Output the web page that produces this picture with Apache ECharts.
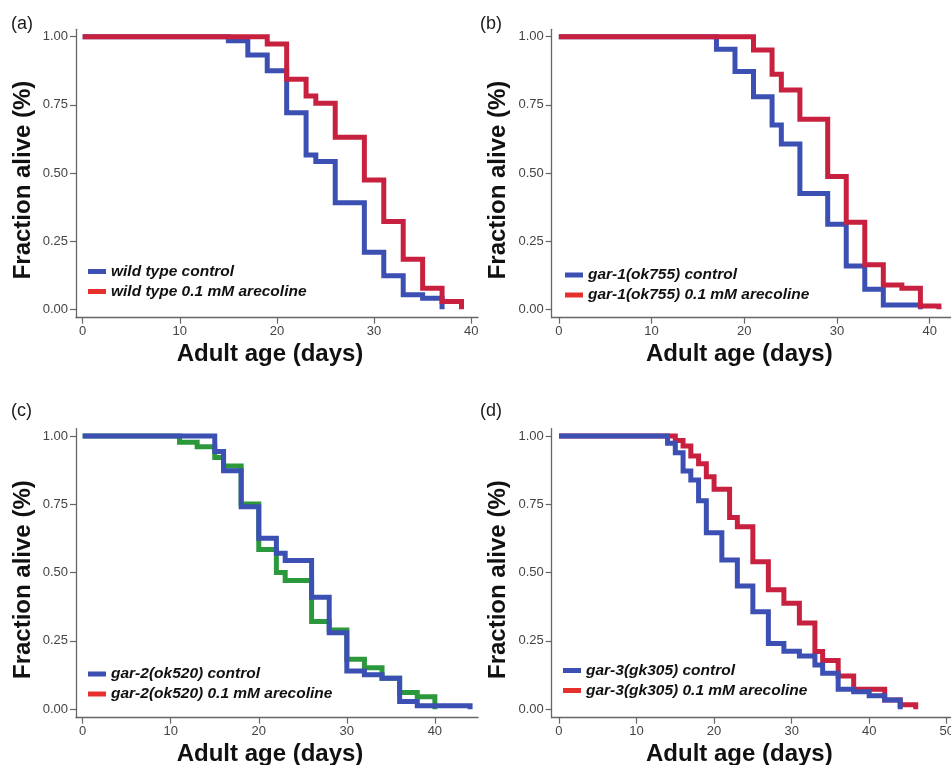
<!DOCTYPE html>
<html>
<head>
<meta charset="utf-8">
<script src="https://cdn.jsdelivr.net/npm/echarts@6/dist/echarts.min.js"></script>
<style>
html, body { margin: 0; padding: 0; background: #fff; }
#main { width: 951px; height: 765px; }
</style>
</head>
<body>
<div id="main"></div>
<script>
// survival curves (day, fraction alive)
var aDaysCtrl = [0, 15, 17, 19, 21, 23, 24, 26, 29, 31, 33, 35, 37];
var aCtrl     = [1, 0.985, 0.933, 0.875, 0.721, 0.566, 0.542, 0.391, 0.209, 0.123, 0.053, 0.040, 0];
var aDaysAre  = [0, 19, 21, 23, 24, 26, 29, 31, 33, 35, 37, 39];
var aAre      = [1, 0.973, 0.844, 0.782, 0.756, 0.631, 0.474, 0.322, 0.183, 0.077, 0.028, 0];

var bDaysCtrl = [0, 17, 19, 21, 23, 24, 26, 29, 31, 33, 35, 39];
var bCtrl     = [1, 0.954, 0.872, 0.78, 0.676, 0.606, 0.425, 0.312, 0.159, 0.073, 0.016, 0];
var bDaysAre  = [0, 21, 23, 24, 26, 29, 31, 33, 35, 37, 39, 41];
var bAre      = [1, 0.951, 0.862, 0.804, 0.697, 0.487, 0.319, 0.163, 0.089, 0.077, 0.012, 0];

var cDaysCtrl = [0, 15, 16, 18, 20, 22, 23, 26, 28, 30, 32, 34, 36, 38, 44];
var cCtrl     = [1, 0.943, 0.873, 0.741, 0.626, 0.571, 0.544, 0.41, 0.28, 0.14, 0.126, 0.113, 0.028, 0.013, 0];
var cDaysAre  = [0, 11, 13, 15, 16, 18, 20, 22, 23, 26, 28, 30, 32, 34, 36, 38, 40];
var cAre      = [1, 0.977, 0.961, 0.921, 0.89, 0.751, 0.585, 0.5, 0.471, 0.321, 0.29, 0.183, 0.152, 0.113, 0.061, 0.046, 0];

var dDaysCtrl = [0, 14, 15, 16, 17, 18, 19, 21, 23, 25, 27, 29, 31, 33, 34, 36, 38, 40, 42, 44];
var dCtrl     = [1, 0.973, 0.939, 0.872, 0.839, 0.763, 0.646, 0.546, 0.451, 0.357, 0.241, 0.212, 0.195, 0.162, 0.132, 0.073, 0.064, 0.049, 0.034, 0];
var dDaysAre  = [0, 15, 16, 17, 18, 19, 20, 22, 23, 25, 27, 29, 31, 33, 34, 36, 38, 42, 44, 46];
var dAre      = [1, 0.983, 0.963, 0.927, 0.898, 0.851, 0.805, 0.702, 0.668, 0.54, 0.437, 0.388, 0.316, 0.211, 0.178, 0.122, 0.073, 0.034, 0.016, 0];

var yTicks = [0, 0.25, 0.5, 0.75, 1];
var xTicksAB = [0, 10, 20, 30, 40];
var xTicksD = [0, 10, 20, 30, 40, 50];

var panelLabels = ['(a)', '(b)', '(c)', '(d)'];
var ctrlNames = ['wild type control', 'gar-1(ok755) control', 'gar-2(ok520) control', 'gar-3(gk305) control'];
var areNames = ['wild type 0.1 mM arecoline', 'gar-1(ok755) 0.1 mM arecoline', 'gar-2(ok520) 0.1 mM arecoline', 'gar-3(gk305) 0.1 mM arecoline'];

var BLUE = '#3c4fb2', RED = '#c8203f', GREEN = '#2b983c', LEGRED = '#e5302e';
var FONT = '"Liberation Sans", Arial, sans-serif';

function pairs(days, vals) {
	return days.map(function (d, i) { return [d, vals[i]]; });
}

// panel layout: grid box and x range
var panels = [
	{ left: 76,    top: 29.3,  width: 402,   height: 288.4, xmin: -0.69, xmax: 40.7,  ticks: xTicksAB, shift: 14, lab: [11, 15],  leg: [88, 263.5] },
	{ left: 551.7, top: 29.3,  width: 399.3, height: 288.4, xmin: -0.77, xmax: 42.3,  ticks: xTicksAB, shift: 24, lab: [480, 15], leg: [565, 267] },
	{ left: 76,    top: 428.6, width: 402,   height: 289.1, xmin: -0.76, xmax: 44.9,  ticks: xTicksAB, shift: 14, lab: [11, 402], leg: [88, 666] },
	{ left: 551.7, top: 428.6, width: 399.3, height: 289.1, xmin: -0.94, xmax: 50.55, ticks: xTicksD,  shift: 24, lab: [480, 402], leg: [563, 662.5] }
];

var ctrlData = [pairs(aDaysCtrl, aCtrl), pairs(bDaysCtrl, bCtrl), pairs(cDaysCtrl, cCtrl), pairs(dDaysCtrl, dCtrl)];
var areData = [pairs(aDaysAre, aAre), pairs(bDaysAre, bAre), pairs(cDaysAre, cAre), pairs(dDaysAre, dAre)];
var areColors = [RED, RED, GREEN, RED];
var ctrlOnTop = [false, false, true, true];

var option = {
	animation: false,
	backgroundColor: '#fff',
	title: [], grid: [], xAxis: [], yAxis: [], legend: [], series: []
};

panels.forEach(function (p, i) {
	option.title.push({
		text: panelLabels[i], left: p.lab[0], top: p.lab[1], padding: 0,
		textStyle: { fontSize: 18, fontWeight: 'normal', color: '#1a1a1a', fontFamily: FONT }
	});
	option.grid.push({
		left: p.left, top: p.top, width: p.width, height: p.height,
		containLabel: false, outerBoundsMode: 'none'
	});
	var axisLine = { show: true, onZero: false, lineStyle: { color: '#666', width: 1.3 } };
	option.xAxis.push({
		type: 'value', gridIndex: i, min: p.xmin, max: p.xmax,
		name: 'Adult age (days)', nameLocation: 'middle', nameGap: 25,
		nameTextStyle: { fontSize: 24, fontWeight: 'bold', color: '#111', fontFamily: FONT, padding: [0, p.shift, 0, 0] },
		axisLine: axisLine,
		axisTick: { show: true, length: 6, customValues: p.ticks, lineStyle: { color: '#666', width: 1.2 } },
		axisLabel: { customValues: p.ticks, margin: 7, fontSize: 13, color: '#444', fontFamily: FONT },
		splitLine: { show: false }
	});
	option.yAxis.push({
		type: 'value', gridIndex: i, min: -0.031, max: 1.027,
		name: 'Fraction alive (%)', nameLocation: 'middle', nameRotate: 90, nameGap: 41,
		nameTextStyle: { fontSize: 24, fontWeight: 'bold', color: '#111', fontFamily: FONT, padding: [0, 13, 0, 0] },
		axisLine: axisLine,
		axisTick: { show: true, length: 6, customValues: yTicks, lineStyle: { color: '#666', width: 1.2 } },
		axisLabel: {
			customValues: yTicks, margin: 8, fontSize: 13, color: '#444', fontFamily: FONT,
			formatter: function (v) { return v.toFixed(2); }
		},
		splitLine: { show: false }
	});
	option.legend.push({
		orient: 'vertical', left: p.leg[0], top: p.leg[1], padding: 0, itemGap: 4,
		itemWidth: 18, itemHeight: 5, icon: 'rect', selectedMode: false,
		textStyle: { fontSize: 15.5, lineHeight: 16, fontWeight: 'bold', fontStyle: 'italic', color: '#111', fontFamily: FONT },
		data: [
			{ name: ctrlNames[i], itemStyle: { color: BLUE } },
			{ name: areNames[i], itemStyle: { color: LEGRED } }
		]
	});
	var sCtrl = {
		name: ctrlNames[i], type: 'line', step: 'end', xAxisIndex: i, yAxisIndex: i,
		showSymbol: false, data: ctrlData[i], color: BLUE,
		lineStyle: { color: BLUE, width: 5, cap: 'butt', join: 'miter' }
	};
	var sAre = {
		name: areNames[i], type: 'line', step: 'end', xAxisIndex: i, yAxisIndex: i,
		showSymbol: false, data: areData[i], color: areColors[i],
		lineStyle: { color: areColors[i], width: 5, cap: 'butt', join: 'miter' }
	};
	if (ctrlOnTop[i]) {
		option.series.push(sAre, sCtrl);
	} else {
		option.series.push(sCtrl, sAre);
	}
});

var myChart = echarts.init(document.getElementById('main'), null, { renderer: 'canvas' });
myChart.setOption(option);
</script>
</body>
</html>
